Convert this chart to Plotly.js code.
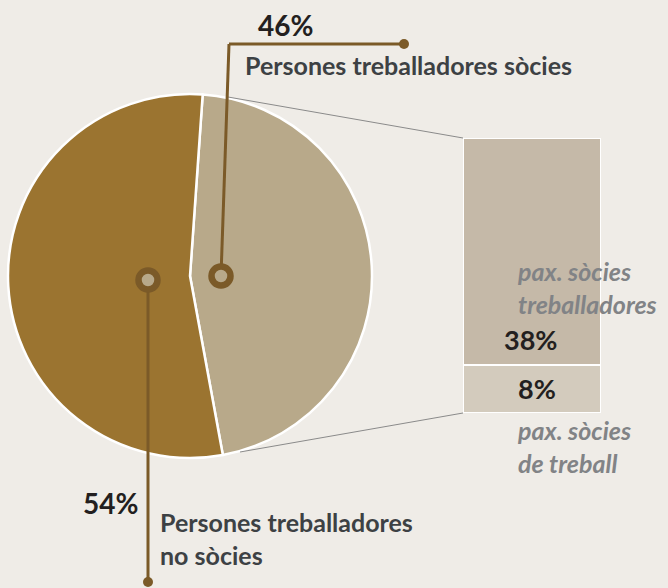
<!DOCTYPE html>
<html><head><meta charset="utf-8">
<script src="https://cdn.plot.ly/plotly-3.0.1.min.js"></script>
<style>html,body{margin:0;padding:0;background:#efece7;}</style>
</head><body><div id="chart" style="width:668px;height:588px;"></div>
<script>
const pieLabels = ["Persones treballadores sòcies", "Persones treballadores no sòcies"];
const pieValues = [46, 54];
const pieColors = ["#b8a98a", "#9b7430"];
const barCategories = ["sòcies"];
const barLabels = ["pax. sòcies de treball", "pax. sòcies treballadores"];
const barValues = [8, 38];
const barColors = ["#d3cbbd", "#c5b9a8"];

const W = 668, H = 588;
const px = x => x / W, py = y => 1 - y / H;
const dark = "#7b5a28";
const font = "Lato, Carlito, 'Open Sans', sans-serif";

const traces = [
  {type: "pie", labels: pieLabels, values: pieValues, sort: false, direction: "clockwise",
   rotation: 4, textinfo: "none", hoverinfo: "label+percent",
   marker: {colors: pieColors, line: {color: "#ffffff", width: 2.5}},
   domain: {x: [px(7), px(373)], y: [py(458), py(94)]}, showlegend: false},
];
barValues.forEach((v, i) => traces.push({
  type: "bar", x: barCategories, y: [v], name: barLabels[i], width: 1,
  marker: {color: barColors[i], line: {color: "#ffffff", width: 2}},
  showlegend: false, hoverinfo: "name+y"
}));

function ann(text, x, y, size, color, italic, anchor) {
  return {text: italic ? "<i>" + text + "</i>" : text, x: px(x), y: py(y), xref: "paper", yref: "paper",
    xanchor: anchor || "left", yanchor: "middle", showarrow: false, align: "left",
    font: {family: font, size: size, color: color, weight: 700}};
}
const grey = "#818386", txt = "#3d4144", num = "#231f20";
const annotations = [
  ann(pieValues[0] + "%", 256, 25, 28, num),
  ann(pieLabels[0], 243, 65, 25, txt),
  ann(pieValues[1] + "%", 81, 503, 28, num),
  ann("Persones treballadores<br>no sòcies", 158, 538, 25, txt),
  ann(barValues[1] + "%", 502, 339, 27, num),
  ann(barValues[0] + "%", 516, 388, 27, num),
  ann("pax. sòcies<br>treballadores", 515, 287, 25, grey, true),
  ann("pax. sòcies<br>de treball", 515, 446, 25, grey, true),
];

function circ(cx, cy, r, fill, lc, lw) {
  return {type: "circle", xref: "paper", yref: "paper", x0: px(cx - r), x1: px(cx + r), y0: py(cy + r), y1: py(cy - r),
    fillcolor: fill, line: {color: lc, width: lw}};
}
function ln(x0, y0, x1, y1, c, w) {
  return {type: "line", xref: "paper", yref: "paper", x0: px(x0), y0: py(y0), x1: px(x1), y1: py(y1), line: {color: c, width: w}};
}
const shapes = [
  ln(228, 97, 463, 138, "#8a8a8a", 1),
  ln(240, 452, 463, 413, "#8a8a8a", 1),
  ln(221, 276, 229, 44, dark, 3),
  ln(229, 44, 404, 44, dark, 3),
  circ(404, 44, 5, dark, dark, 0),
  ln(148, 280, 148, 582, dark, 3),
  circ(148, 582, 5, dark, dark, 0),
  circ(221, 276, 9.5, pieColors[0], dark, 6.5),
  circ(148, 280, 9.5, pieColors[0], dark, 6.5),
];

const layout = {
  width: W, height: H, margin: {l: 0, r: 0, t: 0, b: 0},
  paper_bgcolor: "#efece7", plot_bgcolor: "rgba(0,0,0,0)",
  barmode: "stack", bargap: 0,
  xaxis: {domain: [px(463), px(601)], range: [-0.5, 0.5], visible: false, fixedrange: true},
  yaxis: {domain: [py(413), py(138)], range: [0, 46], visible: false, fixedrange: true},
  annotations: annotations, shapes: shapes,
};
Plotly.newPlot("chart", traces, layout, {displayModeBar: false, staticPlot: true});
</script></body></html>
